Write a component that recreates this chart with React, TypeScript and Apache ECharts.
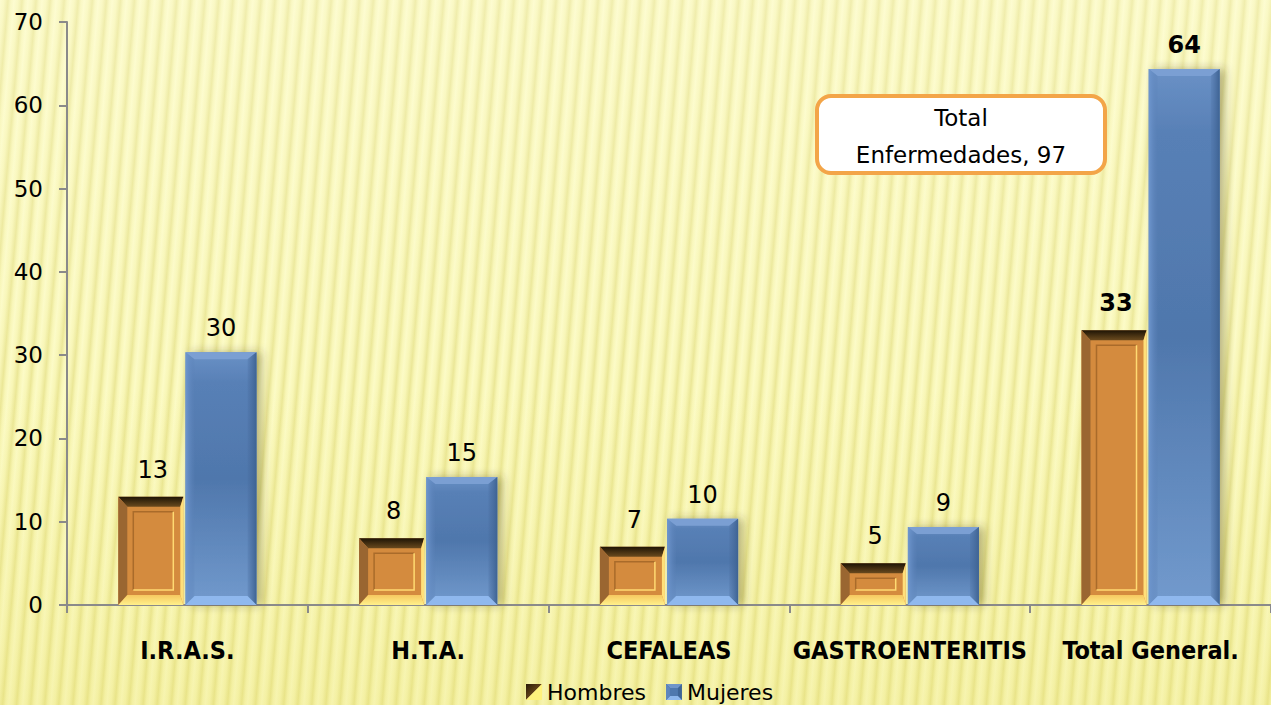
import React, { useEffect, useRef } from "react";
import * as echarts from "echarts";

const categories = ["I.R.A.S.", "H.T.A.", "CEFALEAS", "GASTROENTERITIS", "Total General."];
const hombres = [13, 8, 7, 5, 33];
const mujeres = [30, 15, 10, 9, 64];
const seriesNames = ["Hombres", "Mujeres"];
const yTicks = { min: 0, max: 70, interval: 10 };
const boxTitle = "Total";
const boxLabel = "Enfermedades";

const FONT = "'DejaVu Sans', Verdana, sans-serif";
const CAT_FONT = "'Liberation Sans Narrow', 'DejaVu Sans Condensed', 'Arial Narrow', sans-serif";

const hombresIcon =
  "image://data:image/svg+xml;utf8," +
  encodeURIComponent(
    "<svg xmlns='http://www.w3.org/2000/svg' width='16' height='16'><defs><linearGradient id='g' x1='0' y1='0' x2='1' y2='1'><stop offset='0' stop-color='#2a1a06'/><stop offset='1' stop-color='#9a6a2c'/></linearGradient></defs><polygon points='0,0 16,0 0,16' fill='url(#g)'/><polygon points='16,0 16,16 0,16' fill='#FFF27C'/></svg>"
  );
const mujeresIcon =
  "image://data:image/svg+xml;utf8," +
  encodeURIComponent(
    "<svg xmlns='http://www.w3.org/2000/svg' width='16' height='16'><rect x='0' y='0' width='16' height='16' fill='#3f6596'/><polygon points='0,0 16,0 12,4 4,4' fill='#6f95c9'/><polygon points='0,16 16,16 12,12 4,12' fill='#8db6ec'/><polygon points='0,0 4,4 4,12 0,16' fill='#5e86bd'/><rect x='4' y='4' width='8' height='8' fill='#4f78ae'/></svg>"
  );

function labelText(api: any, cx: number, top: number, val: number, idx: number) {
  const bold = idx === categories.length - 1;
  return {
    type: "text",
    x: cx,
    y: top - 27,
    z2: 20,
    style: {
      text: String(val),
      textAlign: "center",
      textVerticalAlign: "middle",
      font: `${bold ? "bold " : ""}24px ${FONT}`,
      fill: "#000",
    },
  };
}

function renderHombres(params: any, api: any) {
  const idx = api.value(0);
  const val = api.value(1);
  const topPt = api.coord([idx, val]);
  const basePt = api.coord([idx, 0]);
  const band = api.size([1, 0])[0];
  const cx = topPt[0];
  const x0 = cx - 0.287 * band;
  const x1 = cx - 0.017 * band;
  const y0 = topPt[1];
  const y1 = basePt[1];
  const bl = 9, bt = 10, br = 3, bb = 10;
  const fx0 = x0 + bl, fx1 = x1 - br, fy0 = y0 + bt, fy1 = y1 - bb;
  const px0 = fx0 + 6, px1 = fx1 - 7, py0 = fy0 + 5, py1 = fy1 - 5;
  const children: any[] = [
    {
      type: "rect",
      shape: { x: x0, y: y0, width: x1 - x0, height: y1 - y0 },
      style: { fill: "#D48B3E" },
    },
    {
      type: "polygon",
      shape: { points: [[x0, y0], [x1, y0], [fx1, fy0], [fx0, fy0]] },
      style: {
        fill: new echarts.graphic.LinearGradient(0, 0, 0, 1, [
          { offset: 0, color: "#1e1405" },
          { offset: 1, color: "#6a4a1e" },
        ]),
      },
    },
    {
      type: "polygon",
      shape: { points: [[x0, y0], [fx0, fy0], [fx0, fy1], [x0, y1]] },
      style: { fill: "#9A6631" },
    },
    {
      type: "polygon",
      shape: { points: [[x1, y0], [x1, y1], [fx1, fy1], [fx1, fy0]] },
      style: { fill: "#FFE07A" },
    },
    {
      type: "polygon",
      shape: { points: [[x0, y1], [x1, y1], [fx1, fy1], [fx0, fy1]] },
      style: {
        fill: new echarts.graphic.LinearGradient(0, 0, 0, 1, [
          { offset: 0, color: "#F6C860" },
          { offset: 1, color: "#FFF08A" },
        ]),
      },
    },
  ];
  if (py1 - py0 > 3) {
    children.push(
      {
        type: "polyline",
        shape: { points: [[px0, py1], [px0, py0], [px1, py0]] },
        style: { stroke: "#A96B2A", lineWidth: 1.5, fill: null },
      },
      {
        type: "polyline",
        shape: { points: [[px1, py0], [px1, py1], [px0, py1]] },
        style: { stroke: "#FFDA72", lineWidth: 1.5, fill: null },
      }
    );
  }
  children.push(labelText(api, (x0 + x1) / 2 + 2, y0, val, idx));
  return { type: "group", children };
}

function renderMujeres(params: any, api: any) {
  const idx = api.value(0);
  const val = api.value(1);
  const topPt = api.coord([idx, val]);
  const basePt = api.coord([idx, 0]);
  const band = api.size([1, 0])[0];
  const cx = topPt[0];
  const x0 = cx - 0.008 * band;
  const x1 = cx + 0.287 * band;
  const y0 = topPt[1] - 3;
  const y1 = basePt[1];
  const b = 9;
  const children: any[] = [
    {
      type: "rect",
      shape: { x: x0, y: y0, width: x1 - x0, height: y1 - y0 },
      style: {
        fill: new echarts.graphic.LinearGradient(0, 0, 0, 1, [
          { offset: 0, color: "#6a91c6" },
          { offset: 0.12, color: "#5880b6" },
          { offset: 0.5, color: "#4f77ac" },
          { offset: 1, color: "#729acd" },
        ]),
        shadowBlur: 10,
        shadowOffsetX: 5,
        shadowOffsetY: 0,
        shadowColor: "rgba(60,50,0,0.35)",
      },
    },
    {
      type: "polygon",
      shape: { points: [[x0, y0], [x1, y0], [x1 - b, y0 + 7], [x0 + b, y0 + 7]] },
      style: { fill: "#7b9fd3" },
    },
    {
      type: "polygon",
      shape: { points: [[x0, y0], [x0 + b, y0 + 7], [x0 + b, y1 - b], [x0, y1]] },
      style: {
        fill: new echarts.graphic.LinearGradient(0, 0, 1, 0, [
          { offset: 0, color: "#6f97cf" },
          { offset: 1, color: "rgba(90,128,182,0.2)" },
        ]),
      },
    },
    {
      type: "polygon",
      shape: { points: [[x1, y0], [x1, y1], [x1 - b, y1 - b], [x1 - b, y0 + 7]] },
      style: {
        fill: new echarts.graphic.LinearGradient(0, 0, 1, 0, [
          { offset: 0, color: "rgba(70,105,155,0.2)" },
          { offset: 1, color: "#3e6393" },
        ]),
      },
    },
    {
      type: "polygon",
      shape: { points: [[x0, y1], [x1, y1], [x1 - b, y1 - b], [x0 + b, y1 - b]] },
      style: { fill: "#8fb8ee" },
    },
  ];
  children.push(labelText(api, (x0 + x1) / 2, topPt[1], val, idx));
  return { type: "group", children };
}

export default function App() {
  const ref = useRef<HTMLDivElement>(null);
  useEffect(() => {
    if (!ref.current) return;
    const chart = echarts.init(ref.current, null, { renderer: "svg" });
    const total = hombres[hombres.length - 1] + mujeres[mujeres.length - 1];
    chart.setOption({
      animation: false,
      backgroundColor: "transparent",
      grid: { left: 67, right: -6, top: 22, bottom: 100, containLabel: false },
      legend: {
        left: 526,
        top: 680,
        padding: 0,
        itemWidth: 16,
        itemHeight: 16,
        itemGap: 20,
        textStyle: { fontFamily: FONT, fontSize: 22, color: "#000", lineHeight: 24 },
        data: [
          { name: seriesNames[0], icon: hombresIcon },
          { name: seriesNames[1], icon: mujeresIcon },
        ],
      },
      xAxis: {
        type: "category",
        data: categories,
        axisLine: { lineStyle: { color: "#8a8a8a", width: 2 } },
        axisTick: { show: true, length: 8, lineStyle: { color: "#8a8a8a", width: 2 } },
        axisLabel: {
          margin: 33,
          fontFamily: CAT_FONT,
          fontWeight: "bold",
          fontSize: 25,
          color: "#000",
          interval: 0,
        },
      },
      yAxis: {
        type: "value",
        min: yTicks.min,
        max: yTicks.max,
        interval: yTicks.interval,
        axisLine: { show: true, lineStyle: { color: "#8a8a8a", width: 2 } },
        axisTick: { show: true, length: 8, lineStyle: { color: "#8a8a8a", width: 2 } },
        splitLine: { show: false },
        axisLabel: { margin: 24, fontFamily: FONT, fontSize: 23, color: "#000" },
      },
      series: [
        {
          name: seriesNames[0],
          type: "custom",
          itemStyle: { color: "#D48B3E" },
          encode: { x: 0, y: 1 },
          data: categories.map((c, i) => [i, hombres[i]]),
          renderItem: renderHombres,
          z: 3,
        },
        {
          name: seriesNames[1],
          type: "custom",
          itemStyle: { color: "#5880b6" },
          encode: { x: 0, y: 1 },
          data: categories.map((c, i) => [i, mujeres[i]]),
          renderItem: renderMujeres,
          z: 2,
        },
      ],
      graphic: [
        {
          type: "group",
          z: 50,
          children: [
            {
              type: "rect",
              shape: { x: 817, y: 96, width: 288, height: 77, r: 14 },
              style: { fill: "#ffffff", stroke: "#F3A548", lineWidth: 4 },
            },
            {
              type: "text",
              x: 961,
              y: 136.5,
              style: {
                text: `${boxTitle}\n${boxLabel}, ${total}`,
                textAlign: "center",
                textVerticalAlign: "middle",
                font: `23px ${FONT}`,
                lineHeight: 37,
                fill: "#000",
              },
            },
          ],
        },
      ],
    });
    return () => chart.dispose();
  }, []);
  return (
    <div
      ref={ref}
      style={{
        position: "fixed",
        left: 0,
        top: 0,
        width: 1271,
        height: 705,
        background:
          "linear-gradient(to bottom, rgba(255,255,240,0.25) 0%, rgba(255,255,240,0) 55%, rgba(225,215,80,0.2) 100%), repeating-linear-gradient(95deg, #FCFBC6 0px, #F8F6B6 4px, #EBE797 8px, #F8F6B6 11px, #FCFBC6 14px)",
      }}
    />
  );
}
